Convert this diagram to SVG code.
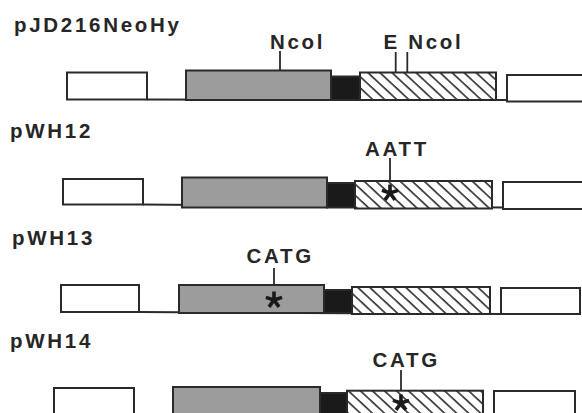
<svg xmlns="http://www.w3.org/2000/svg" width="582" height="413" viewBox="0 0 582 413">
<style>
.bx{stroke:#2a2a2a;stroke-width:2}
.wh{fill:#ffffff}
.gr{fill:#9c9c9c}
.bk{fill:#1a1a1a}
.ht{fill:url(#hatch)}
.ln{stroke:#2a2a2a;stroke-width:2;fill:none}
.ld{stroke:#2a2a2a;stroke-width:1.8;fill:none}
.tl{font-family:"Liberation Sans",Arial,sans-serif;font-weight:bold;font-size:20.5px;letter-spacing:2.7px;fill:#262626}
</style>
<defs>
<pattern id="hatch" patternUnits="userSpaceOnUse" width="8.2" height="8.2" patternTransform="rotate(-47)">
<rect width="8.2" height="8.2" fill="#ffffff"/>
<line x1="1" y1="0" x2="1" y2="8.2" stroke="#2e2e2e" stroke-width="1.6"/>
</pattern>
<g id="star">
<path d="M0,0 L0,-8.5 M0,0 L8.1,-2.6 M0,0 L5,6.9 M0,0 L-5,6.9 M0,0 L-8.1,-2.6" stroke="#1a1a1a" stroke-width="3.6" stroke-linecap="butt" fill="none"/>
</g>
</defs>
<rect width="582" height="413" fill="#ffffff"/>

<g id="connectors">
<line class="ln" x1="147" y1="99.5" x2="507" y2="100"/>
<line class="ld" x1="280" y1="51" x2="280" y2="70.5"/>
<line class="ld" x1="395.7" y1="52" x2="395.7" y2="72.5"/>
<line class="ld" x1="407.3" y1="52" x2="407.3" y2="72.5"/>
<line class="ln" x1="143" y1="204.5" x2="503" y2="207.5"/>
<line class="ld" x1="390" y1="158" x2="390" y2="193"/>
<line class="ln" x1="139" y1="312" x2="501" y2="314"/>
<line class="ld" x1="274" y1="268" x2="274" y2="300"/>
<line class="ld" x1="401" y1="370" x2="401" y2="403"/>
</g>

<g id="row1">
<text class="tl" x="14" y="31.5">pJD216NeoHy</text>
<rect id="r1-left" class="bx wh" x="67" y="72.5" width="80" height="27"/>
<rect id="r1-gray" class="bx gr" x="186" y="70.5" width="145" height="29.5"/>
<rect id="r1-black" class="bx bk" x="331" y="76.5" width="29" height="23.5"/>
<rect id="r1-hatch" class="bx ht" x="360" y="72.5" width="136" height="27.5"/>
<rect id="r1-right" class="bx wh" x="507" y="75" width="82" height="26.5"/>
<text class="tl" x="270" y="48.5">Ncol</text>
<text class="tl" x="383.5" y="48.5">E Ncol</text>
</g>

<g id="row2">
<text class="tl" x="10" y="138">pWH12</text>
<rect id="r2-left" class="bx wh" x="63" y="179" width="80" height="25.5"/>
<rect id="r2-gray" class="bx gr" x="182" y="177.5" width="145" height="30"/>
<rect id="r2-black" class="bx bk" x="327" y="183" width="28" height="24.5"/>
<rect id="r2-hatch" class="bx ht" x="355" y="181" width="137" height="27.5"/>
<rect id="r2-right" class="bx wh" x="503" y="182" width="85" height="27"/>
<text class="tl" x="365" y="155.5">AATT</text>
<use href="#star" x="390" y="193"/>
</g>

<g id="row3">
<text class="tl" x="12" y="245">pWH13</text>
<rect id="r3-left" class="bx wh" x="61" y="285" width="78" height="27"/>
<rect id="r3-gray" class="bx gr" x="179" y="285" width="145" height="28"/>
<rect id="r3-black" class="bx bk" x="324" y="290" width="28" height="23"/>
<rect id="r3-hatch" class="bx ht" x="352" y="287" width="138" height="27"/>
<rect id="r3-right" class="bx wh" x="501" y="288" width="79" height="26"/>
<text class="tl" x="246.5" y="262.7">CATG</text>
<use href="#star" x="274" y="300"/>
</g>

<g id="row4">
<text class="tl" x="10" y="348">pWH14</text>
<rect id="r4-left" class="bx wh" x="54" y="388" width="80" height="30"/>
<rect id="r4-gray" class="bx gr" x="173" y="387" width="147" height="31"/>
<rect id="r4-black" class="bx bk" x="320" y="393" width="27" height="25"/>
<rect id="r4-hatch" class="bx ht" x="347" y="390.7" width="136" height="27"/>
<rect id="r4-right" class="bx wh" x="494" y="391" width="81" height="27"/>
<text class="tl" x="372.5" y="366.7">CATG</text>
<use href="#star" x="401" y="403"/>
</g>
</svg>
